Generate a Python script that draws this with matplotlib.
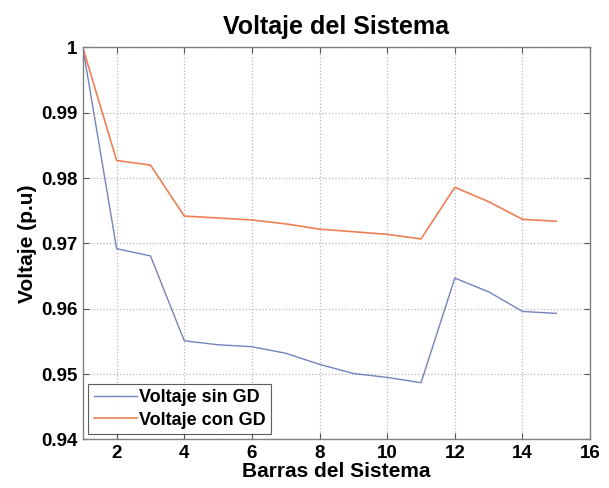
import numpy as np
import matplotlib
matplotlib.use("Agg")
import matplotlib.pyplot as plt

plt.rcParams['font.family'] = ['Liberation Sans', 'DejaVu Sans']
plt.rcParams['font.weight'] = 'bold'

# Barras del sistema
barras = [1, 2, 3, 4, 5, 6, 7, 8, 9, 10, 11, 12, 13, 14, 15]
# Voltaje sin generacion distribuida
v_sin_gd = [1.0, 0.9692, 0.9681, 0.9551, 0.9545, 0.9542, 0.9532, 0.9515,
            0.9501, 0.9495, 0.9487, 0.9647, 0.9626, 0.9596, 0.9593]
# Voltaje con generacion distribuida
v_con_gd = [1.0, 0.9827, 0.9820, 0.9742, 0.9739, 0.9736, 0.9730, 0.9722,
            0.9718, 0.9714, 0.9707, 0.9786, 0.9764, 0.9737, 0.9734]

fig = plt.figure(figsize=(6.09, 4.88), dpi=100)
ax = fig.add_axes([0.136, 0.0994, 0.833, 0.8033])

ax.plot(barras, v_sin_gd, color='#7483bd', lw=1.0, label='Voltaje sin GD')
ax.plot(barras, v_con_gd, color='#ec7f55', lw=1.2, label='Voltaje con GD')

ax.set_xlim(1, 16)
ax.set_ylim(0.94, 1.0)
ax.set_xticks(np.arange(2, 17, 2))
ax.set_yticks(np.arange(0.94, 1.001, 0.01))
ax.set_yticklabels(['0.94', '0.95', '0.96', '0.97', '0.98', '0.99', '1'])

ax.grid(True, linestyle=':', color='#b8b8b8', lw=0.9)
ax.tick_params(direction='in', top=True, right=True, length=4, width=0.8,
               labelsize=13.5, color='#555555', pad=4)
for s in ax.spines.values():
    s.set_color('#808080')
    s.set_linewidth(1.0)

ax.set_title('Voltaje del Sistema', fontsize=18, fontweight='bold', pad=10)
ax.set_xlabel('Barras del Sistema', fontsize=15, fontweight='bold', labelpad=0)
ax.set_ylabel('Voltaje (p.u)', fontsize=15, fontweight='bold', labelpad=3)

leg = ax.legend(loc='lower left', fontsize=13, frameon=True, fancybox=False,
                handlelength=2.4, handletextpad=0.1, borderpad=0.3,
                labelspacing=0.3, borderaxespad=0.3)
leg.get_frame().set_edgecolor('#333333')
leg.get_frame().set_linewidth(0.8)

fig.savefig('out.png', dpi=100)
